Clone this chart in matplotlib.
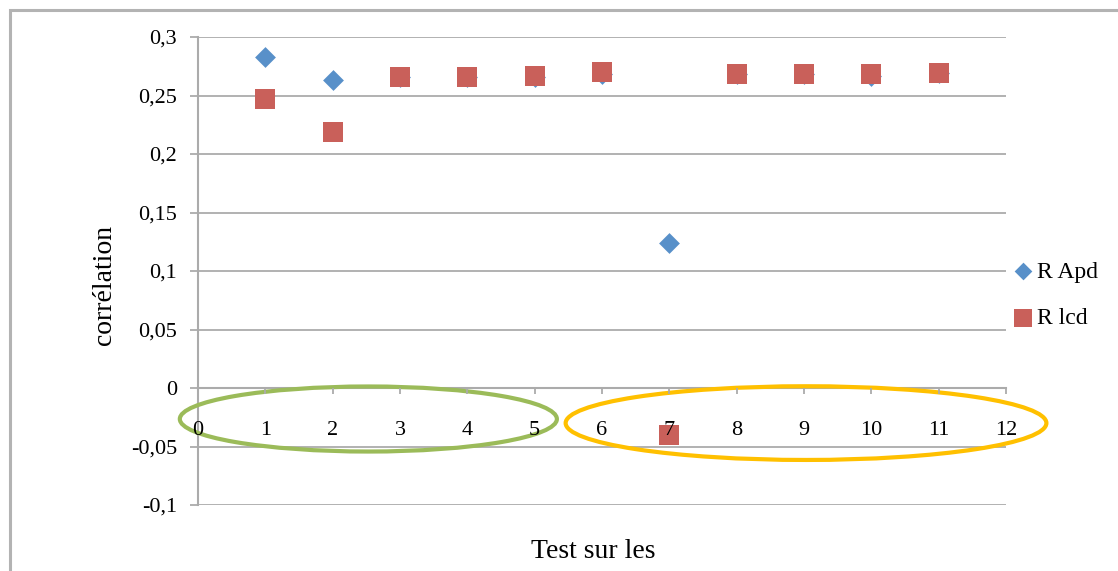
import matplotlib.pyplot as plt
from matplotlib.patches import Ellipse, Rectangle

# === DATA ===
tests = [1, 2, 3, 4, 5, 6, 7, 8, 9, 10, 11]
r_apd = [0.283, 0.263, 0.2656, 0.2656, 0.2655, 0.2685, 0.124, 0.268, 0.268, 0.2665, 0.269]
r_lcd = [0.247, 0.219, 0.2656, 0.2656, 0.267, 0.270, -0.040, 0.268, 0.268, 0.268, 0.269]

y_ticks = [-0.1, -0.05, 0, 0.05, 0.1, 0.15, 0.2, 0.25, 0.3]
y_labels = ["-0,1", "-0,05", "0", "0,05", "0,1", "0,15", "0,2", "0,25", "0,3"]
x_ticks = list(range(0, 13))

# === STYLE ===
plt.rcParams["font.family"] = ["Liberation Serif", "DejaVu Serif"]
grid_color = "#ababab"
blue = "#5890c9"
red = "#c9605a"

fig = plt.figure(figsize=(11.18, 5.71), dpi=100)
W, H = 1118, 571
ax = fig.add_axes([198 / W, 1 - 505 / H, (1006 - 198) / W, (505 - 37) / H])

# outer chart frame
fig.patches.append(Rectangle((10 / W, -0.1), 1.2, 1 - 10 / H + 0.1,
                             transform=fig.transFigure, fill=False,
                             edgecolor="#b3b3b3", linewidth=2.2))

ax.scatter(tests, r_apd, marker="D", s=10.6 ** 2, color=blue, zorder=3,
           label="R Apd", linewidths=0)
ax.scatter(tests, r_lcd, marker="s", s=14.5 ** 2, color=red, zorder=4,
           label="R lcd", linewidths=0)

ax.set_xlim(0, 12)
ax.set_ylim(-0.1, 0.3)
ax.set_yticks(y_ticks)
ax.set_yticklabels(y_labels)
ax.set_xticks(x_ticks)
ax.set_xticklabels([str(v) for v in x_ticks])

for s in ["top", "right"]:
    ax.spines[s].set_visible(False)
ax.spines["left"].set_color(grid_color)
ax.spines["left"].set_linewidth(1.5)
ax.spines["bottom"].set_position(("data", 0))
ax.spines["bottom"].set_color(grid_color)
ax.spines["bottom"].set_linewidth(1.5)

ax.grid(axis="y", color=grid_color, linewidth=1.3)
ax.set_axisbelow(True)
ax.tick_params(axis="y", direction="out", length=6, width=1.3, color=grid_color,
               labelsize=16, pad=9)
ax.tick_params(axis="x", direction="out", length=4, width=1.3, color=grid_color,
               labelsize=16, pad=20)
# tick labels sit on top of the markers (the "7" over the red square)
ax.xaxis.set_zorder(6)

# highlight ellipses
ax.add_patch(Ellipse((2.53, -0.0265), 5.6, 0.0556, fill=False,
                     edgecolor="#9bbb59", linewidth=3, zorder=5, clip_on=False))
ax.add_patch(Ellipse((9.03, -0.030), 7.14, 0.063, fill=False,
                     edgecolor="#ffc000", linewidth=3, zorder=5, clip_on=False))

fig.text(104 / W, 1 - 285 / H, "corrélation", rotation=90, ha="center",
         va="center", fontsize=20)
fig.text(593 / W, 1 - 551 / H, "Test sur les", ha="center", va="center",
         fontsize=20)

ax.legend(loc="center left", bbox_to_anchor=(999 / W, 1 - 295 / H),
          bbox_transform=fig.transFigure, frameon=False, fontsize=17,
          handletextpad=0.0, handlelength=1.2, labelspacing=1.05,
          borderaxespad=0, markerscale=0.85)

fig.savefig("out.png", dpi=100)
